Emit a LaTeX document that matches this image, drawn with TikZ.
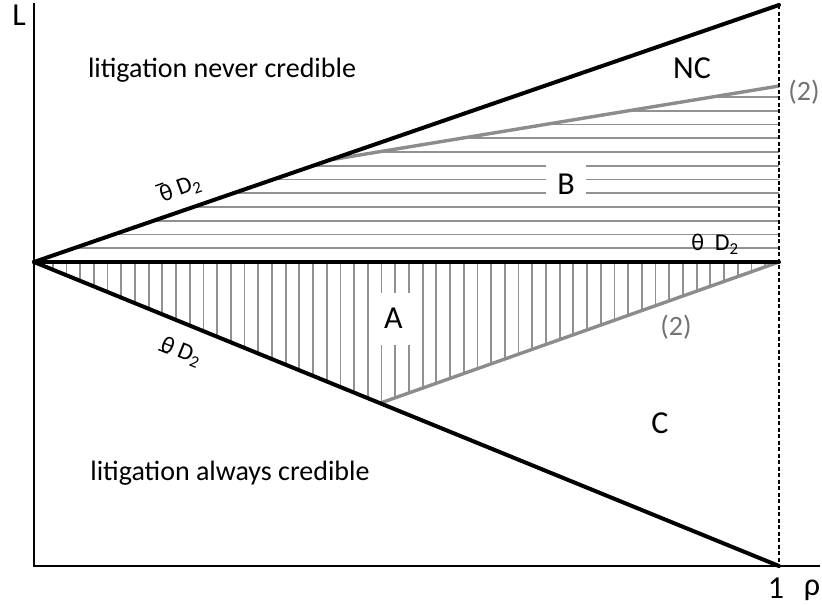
\documentclass[tikz,border=0pt]{standalone}
\usepackage{fontspec}
\setmainfont{Carlito}
\usetikzlibrary{calc}
\definecolor{hatch}{RGB}{145,145,145}
\definecolor{curve}{RGB}{140,140,140}
\definecolor{lbl}{RGB}{115,115,115}
\newcommand\thbar{\leavevmode\rlap{\kern-1.5pt\rule[17pt]{8.5pt}{1.4pt}}θ}
\newcommand\thund{\leavevmode\rlap{\kern-1pt\rule[-0.5pt]{10pt}{1.4pt}}θ}
\begin{document}
\begin{tikzpicture}[x=1pt,y=-1pt,
  thickline/.style={line width=4pt,line cap=round},
  hatchline/.style={line width=1.8pt,hatch},
  curveline/.style={line width=3.4pt,curve},
  axisline/.style={line width=1.6pt},
  dashline/.style={line width=1.4pt,dash pattern=on 4pt off 2.5pt},
  bigtext/.style={font=\fontsize{28}{30}\selectfont,inner sep=0pt},
  region/.style={font=\fontsize{32}{34}\selectfont,inner sep=0pt},
  greek/.style={font=\fontsize{24}{26}\selectfont,inner sep=0pt},
  two/.style={font=\fontsize{28}{30}\selectfont,text=lbl,inner sep=0pt},
  knock/.style={fill=white,inner sep=0pt}]
\useasboundingbox (0,0) rectangle (822,605);
\coordinate (O) at (34,262);
\coordinate (T) at (779,5);
\coordinate (M) at (779,262);
\coordinate (Bt) at (779,566);
\coordinate (P1) at ($(O)!0.3973!(T)$);
\coordinate (U) at (779,86);
\coordinate (Q) at ($(O)!0.4644!(Bt)$);
\coordinate (Ytop) at (34,3);
\coordinate (Orig) at (34,566);
\coordinate (Xend) at (820,566);
% hatching in B
\begin{scope}
  \clip (O) -- (P1) -- (U) -- (M) -- cycle;
  \foreach \k in {1,...,13}
    \draw[hatchline] (30,{262-13.75*\k}) -- (790,{262-13.75*\k});
\end{scope}
% hatching in A
\begin{scope}
  \clip (O) -- (M) -- (Q) -- cycle;
  \foreach \k in {0,...,55}
    \draw[hatchline] ({39+13.7*\k},255) -- ({39+13.7*\k},420);
\end{scope}
% knock-out labels
\node[knock,region,minimum width=40pt,minimum height=40pt] (B) at (566,184.5) {B};
\node[knock,region,minimum width=46pt,minimum height=52pt] (A) at (393.5,318.5) {A};
% gray curves (2)
\draw[curveline] (P1) -- (U);
\draw[curveline] (Q) -- (M);
% black lines
\draw[thickline] (O) -- (T);
\draw[thickline] (O) -- (M);
\draw[thickline] (O) -- (Bt);
% axes
\draw[axisline] (Ytop) -- (Orig) -- (Xend);
\draw[dashline] (T) -- (Bt);
% labels
\node[region] (Lab) at (19,15) {L};
\node[bigtext] (never) at (222,70) {litigation never credible};
\node[bigtext] (always) at (230,473) {litigation always credible};
\node[region] (NC) at (692,68) {NC};
\node[region] (C) at (660,423) {C};
\node[two] (two1) at (804,92) {(2)};
\node[two] (two2) at (676,327) {(2)};
\node[greek,rotate=20] (thtop) at (180,188) {\thbar\ D\textsubscript{2}};
\node[greek,rotate=-22] (thbot) at (181,352) {\thund\ D\textsubscript{2}};
\node[greek] (thmid) at (715,244) {θ\ \ D\textsubscript{2}};
\node[region] (one) at (776,588) {1};
\node[region] (rho) at (812,590) {ρ};
\end{tikzpicture}
\end{document}
